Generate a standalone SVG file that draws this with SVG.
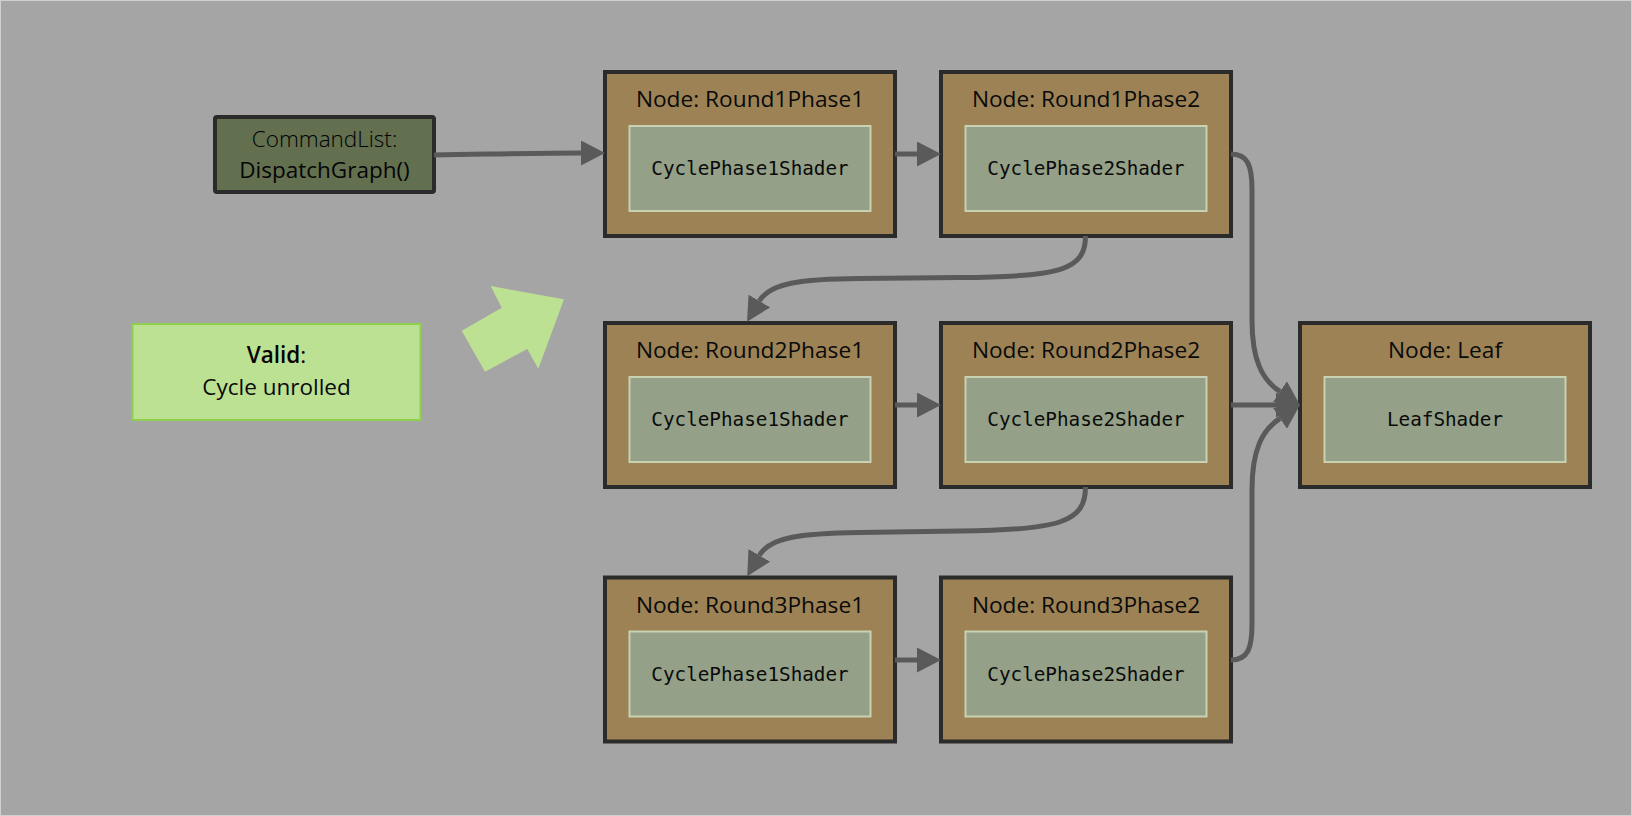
<svg xmlns="http://www.w3.org/2000/svg" width="1632" height="816" viewBox="0 0 1632 816">
<style>
.node{fill:#9c8255;stroke:#2b2b2b;stroke-width:4}
.inner{fill:#94a088;stroke:#c8d2b0;stroke-width:2}
.title{font-family:"Open Sans","Noto Sans",sans-serif;font-size:22.7px;fill:#0a0a0a;text-anchor:middle}
.code{font-family:"DejaVu Sans Mono","Liberation Mono",monospace;font-size:19.3px;fill:#0a0a0a;text-anchor:middle}
.conn{fill:none;stroke:#5a5a5a;stroke-width:5}
.ui{font-family:"Open Sans","Noto Sans",sans-serif;font-size:22.5px;text-anchor:middle}
</style>
<defs>
<marker id="ah" markerUnits="userSpaceOnUse" markerWidth="24" markerHeight="25" viewBox="0 0 24 25" refX="0" refY="12.5" orient="auto">
<path d="M0,0 L24,12.5 L0,25 z" fill="#5a5a5a"/>
</marker>
</defs>
<rect x="0.5" y="0.5" width="1631" height="815" fill="#a5a5a5" stroke="#cfcfcf" stroke-width="1"/>

<g id="commandlist">
<rect x="215" y="117" width="219" height="75" rx="2" fill="#637050" stroke="#2b2b2b" stroke-width="4"/>
<text class="ui" x="324.5" y="146.5" fill="#000000" font-weight="300">CommandList:</text>
<text class="ui" x="324.5" y="178" fill="#050505">DispatchGraph()</text>
</g>

<g id="valid-note">
<rect x="132.5" y="324" width="288" height="96" fill="#bde192" stroke="#8ed04e" stroke-width="2"/>
<text class="ui" x="276.5" y="363.3" fill="#050505"><tspan font-weight="600">Valid</tspan>:</text>
<text class="ui" x="276.5" y="395" fill="#0a0a0a">Cycle unrolled</text>
</g>

<g id="big-arrow">
<polygon points="490.7,286 564,299.3 538.3,368.7 527.3,349 485,371.7 461.7,330.7 501.7,307.7" fill="#bde192"/>
</g>

<g id="round1phase1">
<rect class="node" x="605" y="72" width="290" height="164"/>
<text class="title" x="750" y="107">Node: Round1Phase1</text>
<rect class="inner" x="629.5" y="126" width="241" height="85"/>
<text class="code" x="750" y="175">CyclePhase1Shader</text>
</g>
<g id="round1phase2">
<rect class="node" x="941" y="72" width="290" height="164"/>
<text class="title" x="1086" y="107">Node: Round1Phase2</text>
<rect class="inner" x="965.5" y="126" width="241" height="85"/>
<text class="code" x="1086" y="175">CyclePhase2Shader</text>
</g>
<g id="round2phase1">
<rect class="node" x="605" y="323" width="290" height="164"/>
<text class="title" x="750" y="358">Node: Round2Phase1</text>
<rect class="inner" x="629.5" y="377" width="241" height="85"/>
<text class="code" x="750" y="426">CyclePhase1Shader</text>
</g>
<g id="round2phase2">
<rect class="node" x="941" y="323" width="290" height="164"/>
<text class="title" x="1086" y="358">Node: Round2Phase2</text>
<rect class="inner" x="965.5" y="377" width="241" height="85"/>
<text class="code" x="1086" y="426">CyclePhase2Shader</text>
</g>
<g id="leaf">
<rect class="node" x="1300" y="323" width="290" height="164"/>
<text class="title" x="1445" y="358">Node: Leaf</text>
<rect class="inner" x="1324.5" y="377" width="241" height="85"/>
<text class="code" x="1445" y="426">LeafShader</text>
</g>
<g id="round3phase1">
<rect class="node" x="605" y="577.5" width="290" height="164"/>
<text class="title" x="750" y="613">Node: Round3Phase1</text>
<rect class="inner" x="629.5" y="631.5" width="241" height="85"/>
<text class="code" x="750" y="681">CyclePhase1Shader</text>
</g>
<g id="round3phase2">
<rect class="node" x="941" y="577.5" width="290" height="164"/>
<text class="title" x="1086" y="613">Node: Round3Phase2</text>
<rect class="inner" x="965.5" y="631.5" width="241" height="85"/>
<text class="code" x="1086" y="681">CyclePhase2Shader</text>
</g>

<g id="connectors">
<path class="conn" marker-end="url(#ah)" d="M434,155 C500,154 540,153 581,153"/>
<path class="conn" marker-end="url(#ah)" d="M895,154 L917,154"/>
<path class="conn" marker-end="url(#ah)" d="M895,405 L917,405"/>
<path class="conn" marker-end="url(#ah)" d="M895,660 L917,660"/>
<path class="conn" marker-end="url(#ah)" d="M1231,405 L1276,405"/>
<path class="conn" marker-end="url(#ah)" d="M1085.5,236 C1085.5,270 1060,277 960,277.5 L860,278.5 C800,279 770,283 759.3,301"/>
<path class="conn" marker-end="url(#ah)" d="M1085.5,487 C1085.5,522 1060,530 960,531 L860,532.5 C800,533.5 770,537 759.3,555.4"/>
<path class="conn" marker-end="url(#ah)" d="M1231,154 C1248,154 1252,166 1252,190 L1252,320 C1252,360 1262,379.7 1280,391.7"/>
<path class="conn" marker-end="url(#ah)" d="M1231,660 C1248,660 1252,648 1252,624 L1252,490 C1252,450 1262,430.3 1280,418.3"/>
</g>
</svg>
